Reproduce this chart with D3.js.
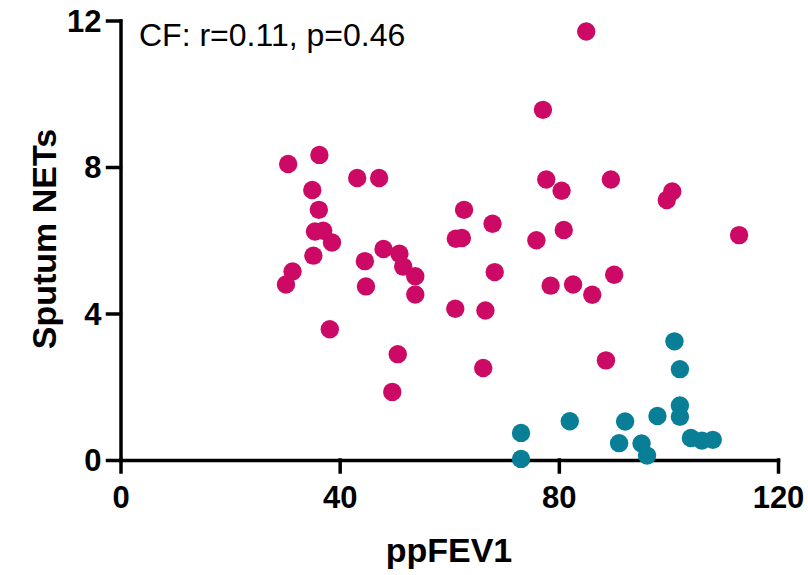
<!DOCTYPE html>
<html>
<head>
<meta charset="utf-8">
<script src="https://cdn.jsdelivr.net/npm/d3@7"></script>
<style>
  body { margin: 0; background: white; }
  svg { display: block; font-family: Arial, "Liberation Sans", sans-serif; }
</style>
</head>
<body>
<svg class="chart" width="808" height="575"></svg>
<script>
// CF group (magenta) and control group (teal): [ppFEV1, Sputum NETs]
const cfPoints = [
  [85.0, 11.7], [77.1, 9.56], [36.3, 8.33], [30.6, 8.08], [43.2, 7.7],
  [47.2, 7.7], [35.0, 7.37], [36.2, 6.83], [35.5, 6.24], [37.0, 6.26],
  [38.6, 5.94], [35.2, 5.58], [31.4, 5.15], [30.2, 4.79], [44.6, 5.43],
  [44.8, 4.74], [48.0, 5.76], [50.9, 5.63], [51.6, 5.28], [53.8, 5.02],
  [53.8, 4.52], [61.2, 6.04], [62.3, 6.06], [62.7, 6.83], [67.9, 6.45],
  [75.9, 6.0], [80.9, 6.28], [112.9, 6.14], [77.7, 7.66], [80.5, 7.35],
  [89.5, 7.66], [100.7, 7.33], [99.7, 7.1], [68.3, 5.13], [78.5, 4.76],
  [82.6, 4.79], [86.1, 4.51], [90.1, 5.06], [61.1, 4.13], [66.6, 4.08],
  [38.2, 3.57], [50.6, 2.89], [66.2, 2.51], [88.6, 2.72], [49.6, 1.86]
];
const controlPoints = [
  [101.1, 3.24], [102.1, 2.48], [102.1, 1.49], [102.1, 1.18], [98.0, 1.2],
  [92.1, 1.05], [82.0, 1.06], [73.1, 0.74], [73.1, 0.03], [91.0, 0.46],
  [95.1, 0.45], [96.1, 0.12], [104.1, 0.6], [106.1, 0.53], [108.1, 0.55]
];
const xTicks = [0, 40, 80, 120];
const yTicks = [0, 4, 8, 12];
const statLabel = "CF: r=0.11, p=0.46";

const cfColor = "#cc0a66";
const controlColor = "#087f96";

const svg = d3.select("svg.chart");

const x = d3.scaleLinear().domain([0, 120]).range([120.5, 778]);
const y = d3.scaleLinear().domain([0, 12]).range([460, 20.5]);

const xAxis = svg
  .append("g")
  .attr("transform", `translate(0,${y(0)})`)
  .call(d3.axisBottom(x).tickValues(xTicks).tickSize(12).tickSizeOuter(0).tickPadding(12));

const yAxis = svg
  .append("g")
  .attr("transform", `translate(${x(0)},0)`)
  .call(d3.axisLeft(y).tickValues(yTicks).tickSize(13).tickSizeOuter(0).tickPadding(6));

[xAxis, yAxis].forEach((g) => {
  g.selectAll("path.domain, .tick line")
    .attr("stroke", "black")
    .attr("stroke-width", 3.5)
    .attr("stroke-linecap", "square");
  g.selectAll(".tick text")
    .attr("fill", "black")
    .style("font-size", "31px")
    .style("font-weight", "bold");
});
xAxis.selectAll(".tick text").attr("dy", "0.76em");
yAxis.selectAll(".tick text").attr("dy", "0.35em");

svg
  .append("text")
  .attr("x", 449)
  .attr("y", 562)
  .attr("text-anchor", "middle")
  .style("font-size", "34px")
  .style("font-weight", "bold")
  .text("ppFEV1");

svg
  .append("text")
  .attr("transform", "translate(56,239) rotate(-90)")
  .attr("text-anchor", "middle")
  .style("font-size", "34px")
  .style("font-weight", "bold")
  .text("Sputum NETs");

svg
  .append("text")
  .attr("x", 139)
  .attr("y", 46)
  .style("font-size", "32px")
  .attr("fill", "black")
  .text(statLabel);

svg
  .append("g")
  .selectAll("circle")
  .data(cfPoints)
  .join("circle")
  .attr("cx", (d) => x(d[0]))
  .attr("cy", (d) => y(d[1]))
  .attr("r", 9.2)
  .attr("fill", cfColor);

svg
  .append("g")
  .selectAll("circle")
  .data(controlPoints)
  .join("circle")
  .attr("cx", (d) => x(d[0]))
  .attr("cy", (d) => y(d[1]))
  .attr("r", 9.2)
  .attr("fill", controlColor);
</script>
</body>
</html>
